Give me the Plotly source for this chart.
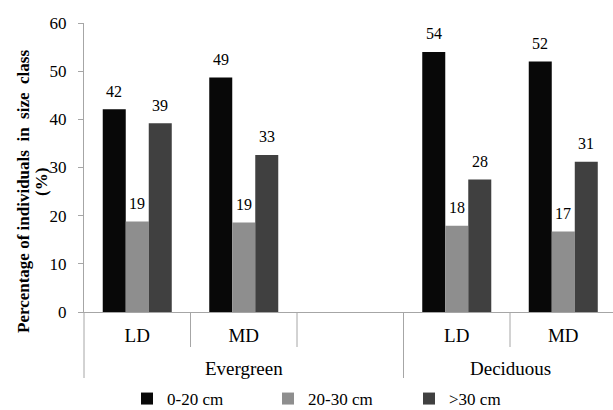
import plotly.graph_objects as go

# ---- data ----
slots = ["LD", "MD", "", "LD", "MD"]          # category slots (blank gap slot in Evergreen)
groups = ["Evergreen", "Deciduous"]
group_slots = [(0, 2), (3, 4)]                  # first/last slot index of each group
series_names = ["0-20 cm", "20-30 cm", ">30 cm"]
v_0_20 = [42.1, 48.7, None, 54.0, 52.0]
v_20_30 = [18.8, 18.6, None, 17.9, 16.7]
v_gt30 = [39.2, 32.6, None, 27.5, 31.2]
series_vals = [v_0_20, v_20_30, v_gt30]
colors = ["#080808", "#8e8e8e", "#404040"]

FONT = "Liberation Serif"
W, H = 613, 410
ML, MT, MB = 84, 23, 98
x_range = [-0.5, 4.467]
BARGAP = 0.352

fig = go.Figure()
xs = list(range(len(slots)))
for name, vals, col in zip(series_names, series_vals, colors):
    fig.add_trace(go.Bar(
        x=xs, y=vals, name=name,
        marker=dict(color=col, line=dict(width=0)),
        hoverinfo="x+y+name",
    ))

def xpaper(v):
    return (v - x_range[0]) / (x_range[1] - x_range[0])

plot_w = W - ML
plot_h = H - MT - MB
slot_px = plot_w / (x_range[1] - x_range[0])
bar_px = slot_px * (1 - BARGAP) / len(series_vals)

annotations = []
# value labels above bars
for i, vals in enumerate(series_vals):
    for x, v in zip(xs, vals):
        if v is None:
            continue
        annotations.append(dict(text=f"{v:.0f}", x=x, y=v, xref="x", yref="y",
                                xshift=(i - (len(series_vals) - 1) / 2) * bar_px,
                                yshift=18, xanchor="center", yanchor="middle",
                                showarrow=False,
                                font=dict(family=FONT, size=16, color="#000")))

shapes = []
# slot separators: short within group, long at group boundaries
bounds = [i - 0.5 for i in range(len(slots) + 1)]
group_edges = set()
for a, b in group_slots:
    group_edges.add(a - 0.5)
    group_edges.add(b + 0.5)
for bx in bounds:
    px = xpaper(bx)
    if px > 1.0001:
        continue
    depth = 66 if bx in group_edges else 35
    shapes.append(dict(type="line", xref="paper", yref="paper",
                       x0=px, x1=px, y0=0, y1=-depth / plot_h,
                       line=dict(color="#a6a6a6", width=1)))

for g, (a, b) in zip(groups, group_slots):
    annotations.append(dict(text=g, xref="paper", yref="paper",
                            x=xpaper((a + b) / 2), y=-56 / plot_h,
                            xanchor="center", yanchor="middle", showarrow=False,
                            font=dict(family=FONT, size=19, color="#000")))
# y-axis title (two lines)
for txt, cx, cy in [("<b>Percentage of individuals  in  size  class</b>", 23, 192),
                    ("<b>(%)</b>", 41, 182)]:
    annotations.append(dict(
        text=txt, xref="paper", yref="paper",
        x=(cx - ML) / plot_w, y=(H - MB - cy) / plot_h,
        xanchor="center", yanchor="middle", textangle=-90, showarrow=False,
        font=dict(family=FONT, size=17, color="#000")))

fig.update_layout(
    width=W, height=H,
    margin=dict(l=ML, r=0, t=MT, b=MB, pad=0),
    paper_bgcolor="white", plot_bgcolor="white",
    barmode="group", bargap=BARGAP, bargroupgap=0,
    font=dict(family=FONT, color="#000"),
    xaxis=dict(range=x_range, tickmode="array", tickvals=[i for i, s in enumerate(slots) if s],
               ticktext=[s for s in slots if s], showgrid=False, zeroline=False,
               showline=True, linecolor="#a6a6a6", linewidth=1, ticks="",
               ticklabelstandoff=6, tickfont=dict(family=FONT, size=19, color="#000")),
    yaxis=dict(range=[0, 60], tickvals=[0, 10, 20, 30, 40, 50, 60], showgrid=False,
               zeroline=False, showline=True, linecolor="#a6a6a6", linewidth=1,
               ticks="outside", ticklen=5, tickcolor="#a6a6a6",
               ticklabelstandoff=8, tickfont=dict(family=FONT, size=17, color="#000")),
    legend=dict(orientation="h", xref="container", yref="container",
                x=127 / W, y=1 - 399 / H, xanchor="left", yanchor="middle",
                font=dict(family=FONT, size=17, color="#000"),
                itemwidth=30, entrywidthmode="pixels", entrywidth=96,
                bgcolor="rgba(0,0,0,0)"),
    shapes=shapes, annotations=annotations,
)

fig.write_html("out.html", config={"displayModeBar": False},
               post_script="document.body.style.margin='0px';document.body.style.overflow='hidden';")
